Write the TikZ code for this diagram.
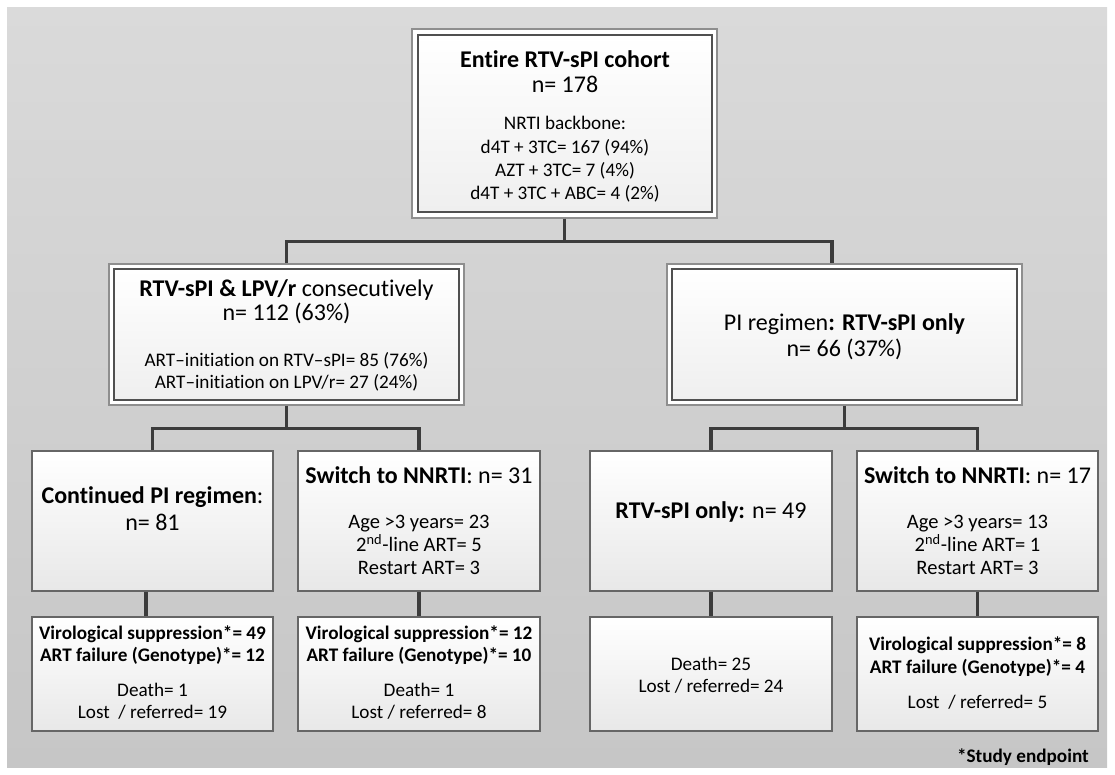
\documentclass[tikz,border=0pt]{standalone}
\usepackage{fontspec}
\setmainfont{Carlito}[Ligatures={TeX,NoCommon}]
\usetikzlibrary{fit,calc}
\definecolor{linec}{HTML}{3C3C3C}
\definecolor{panelTop}{HTML}{DADADA}
\definecolor{panelBot}{HTML}{C6C6C6}
\definecolor{frameOut}{HTML}{8E8E8E}
\definecolor{frameIn}{HTML}{505050}
\definecolor{boxLine}{HTML}{666666}
\definecolor{boxBot}{HTML}{E8E8E8}
\begin{document}
\begin{tikzpicture}[x=0.75pt,y=-0.75pt,
  conn/.style={draw=linec, line width=2.3pt, line join=miter},
  outerframe/.style={draw=frameOut, fill=white, line width=0.8pt, inner sep=0pt},
  innerframe/.style={draw=frameIn, line width=0.8pt, top color=white, bottom color=boxBot!70, inner sep=0pt},
  plainbox/.style={draw=boxLine, line width=0.8pt, top color=white, bottom color=boxBot, inner sep=0pt},
  big/.style={font=\fontsize{18}{21}\selectfont, inner sep=0pt, anchor=base, text=black},
  mid/.style={font=\fontsize{15.4}{18}\selectfont, inner sep=0pt, anchor=base, text=black},
  small/.style={font=\fontsize{14.4}{17}\selectfont, inner sep=0pt, anchor=base, text=black},
]
\useasboundingbox (0,0) rectangle (1115,775);
% background panel
\fill[top color=panelTop, bottom color=panelBot] (7,7) rectangle (1107,767);

% boxes
\node[outerframe, fit={(412,29) (717,218)}] (topO) {};
\node[innerframe, fit={(418,35) (712,212)}] (top) {};
\node[outerframe, fit={(109,264) (464,405)}] (mLO) {};
\node[innerframe, fit={(114,269) (459,400)}] (mL) {};
\node[outerframe, fit={(667,264) (1022,405)}] (mRO) {};
\node[innerframe, fit={(672,269) (1017,400)}] (mR) {};

\node[plainbox, fit={(32,451) (273,591)}] (r3a) {};
\node[plainbox, fit={(298,451) (540,591)}] (r3b) {};
\node[plainbox, fit={(590,451) (832,591)}] (r3c) {};
\node[plainbox, fit={(857,451) (1098,591)}] (r3d) {};

\node[plainbox, fit={(32,617) (273,731)}] (r4a) {};
\node[plainbox, fit={(298,617) (540,731)}] (r4b) {};
\node[plainbox, fit={(590,617) (832,731)}] (r4c) {};
\node[plainbox, fit={(857,617) (1098,731)}] (r4d) {};

% connectors
\draw[conn] (topO.south) -- ++(0,23) coordinate (j0);
\draw[conn] (mLO.north) |- (j0) -| ($(mRO.north)+(-12.5,0)$);
\draw[conn] (mLO.south) -- ++(0,23) coordinate (j1);
\draw[conn] (r3a.north) |- (j1) -| (r3b.north);
\draw[conn] (mRO.south) -- ++(0,23) coordinate (j2);
\draw[conn] (r3c.north) |- (j2) -| (r3d.north);
\draw[conn] ($(r3a.south)+(-6.5,0)$) -- ($(r4a.north)+(-6.5,0)$);
\draw[conn] (r3b.south) -- (r4b.north);
\draw[conn] (r3c.south) -- (r4c.north);
\draw[conn] (r3d.south) -- (r4d.north);

% top box text
\node[big] (t0a) at (565,67) {\bfseries Entire RTV-sPI cohort};
\node[big] (t0b) at (565,92) {n= 178};
\node[small] (t0c) at (565,129) {NRTI backbone:};
\node[small] (t0d) at (565,153) {d4T + 3TC= 167 (94\%)};
\node[small] (t0e) at (565,176) {AZT + 3TC= 7 (4\%)};
\node[small] (t0f) at (565,199) {d4T + 3TC + ABC= 4 (2\%)};

% middle left
\node[big] (t1a) at (286.5,296) {\textbf{RTV-sPI \& LPV/r} consecutively};
\node[big] (t1b) at (286.5,320) {n= 112 (63\%)};
\node[small] (t1c) at (286.5,366) {ART–initiation on RTV–sPI= 85 (76\%)};
\node[small] (t1d) at (286.5,388) {ART–initiation on LPV/r= 27 (24\%)};

% middle right
\node[big] (t2a) at (844.5,330) {PI regimen\textbf{: RTV-sPI only}};
\node[big] (t2b) at (844.5,356) {n= 66 (37\%)};

% row 3
\node[big] (t3a1) at (152.5,503) {\textbf{Continued PI regimen}:};
\node[big] (t3a2) at (152.5,530) {n= 81};

\node[big] (t3b1) at (419,483) {\textbf{Switch to NNRTI}: n= 31};
\node[mid] (t3b2) at (419,528) {Age >3 years= 23};
\node[mid] (t3b3) at (419,551) {2\textsuperscript{nd}-line ART= 5};
\node[mid] (t3b4) at (419,574) {Restart ART= 3};

\node[big] (t3c1) at (711,518) {\textbf{RTV-sPI only:} n= 49};

\node[big] (t3d1) at (977.5,483) {\textbf{Switch to NNRTI}: n= 17};
\node[mid] (t3d2) at (977.5,528) {Age >3 years= 13};
\node[mid] (t3d3) at (977.5,551) {2\textsuperscript{nd}-line ART= 1};
\node[mid] (t3d4) at (977.5,574) {Restart ART= 3};

% row 4
\node[small] (t4a1) at (152.5,639) {\bfseries Virological suppression*= 49};
\node[small] (t4a2) at (152.5,661) {\bfseries ART failure (Genotype)*= 12};
\node[small] (t4a3) at (152.5,696) {Death= 1};
\node[small] (t4a4) at (152.5,718) {Lost \ / referred= 19};

\node[small] (t4b1) at (419,639) {\bfseries Virological suppression*= 12};
\node[small] (t4b2) at (419,661) {\bfseries ART failure (Genotype)*= 10};
\node[small] (t4b3) at (419,696) {Death= 1};
\node[small] (t4b4) at (419,718) {Lost / referred= 8};

\node[small] (t4c1) at (711,670) {Death= 25};
\node[small] (t4c2) at (711,692) {Lost / referred= 24};

\node[small] (t4d1) at (977.5,650) {\bfseries Virological suppression*= 8};
\node[small] (t4d2) at (977.5,673) {\bfseries ART failure (Genotype)*= 4};
\node[small] (t4d3) at (977.5,708) {Lost \ / referred= 5};

% footnote
\node[small, anchor=base east] (foot) at (1089,762) {\bfseries *Study endpoint};
\end{tikzpicture}
\end{document}
